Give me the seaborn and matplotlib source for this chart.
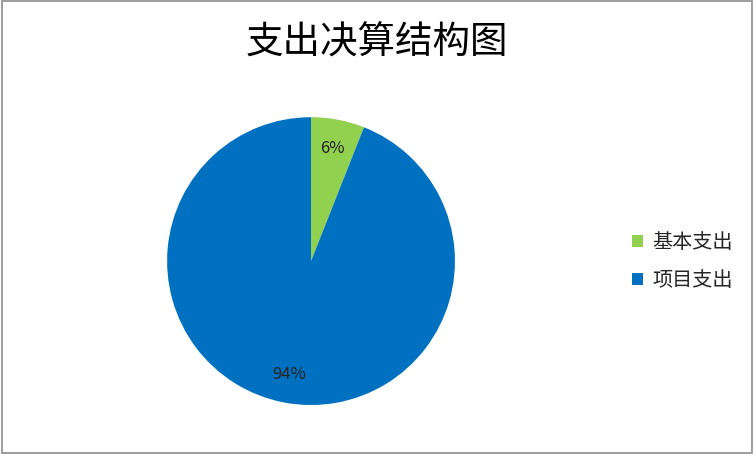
import matplotlib
matplotlib.use("Agg")
import matplotlib.pyplot as plt
import seaborn as sns
from matplotlib.patches import Rectangle

sns.set_theme(style="white")
plt.rcParams['font.family'] = ['Noto Sans CJK SC', 'DejaVu Sans']

categories = ['基本支出', '项目支出']
shares = [6, 94]
colors = ['#92D050', '#0070C0']
title = '支出决算结构图'

fig = plt.figure(figsize=(7.54, 4.54), dpi=100)
fig.patch.set_facecolor('white')

ax = fig.add_axes([0.2215, 0.1079, 0.382, 0.634])
wedges, texts, autotexts = ax.pie(
    shares, colors=colors, startangle=90, counterclock=False,
    autopct='%d%%', pctdistance=0.8,
    wedgeprops={'linewidth': 0},
    textprops={'fontsize': 12, 'color': '#222222'})
ax.set_xlim(-1, 1)
ax.set_ylim(-1, 1)
ax.set_aspect('equal')

fig.text(0.5, 0.905, title, ha='center', va='center', fontsize=27, color='black')

fig.legend(wedges, categories, loc='center left', bbox_to_anchor=(0.814, 0.424),
           frameon=False, fontsize=14.5, handlelength=0.55, handleheight=0.55,
           labelspacing=0.85, handletextpad=0.45)

fig.patches.append(Rectangle((0.002, 0.003), 0.996, 0.994, transform=fig.transFigure,
                             fill=False, edgecolor='#8c8c8c', linewidth=1.2))

fig.savefig('out.png', dpi=100)
